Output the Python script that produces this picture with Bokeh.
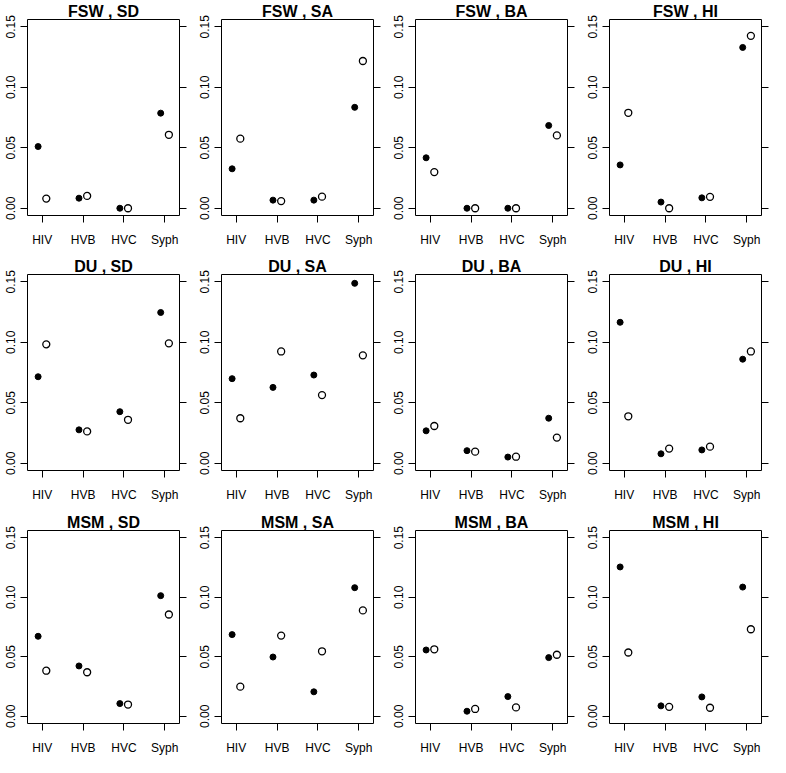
from bokeh.plotting import figure
from bokeh.layouts import gridplot
from bokeh.models import (FixedTicker, LinearAxis, NumeralTickFormatter, Range1d,
                          ColumnDataSource, CustomLabelingPolicy)
from bokeh.embed import file_html
from bokeh.resources import INLINE

categories = ["HIV", "HVB", "HVC", "Syph"]
groups = ["FSW", "DU", "MSM"]
sites = ["SD", "SA", "BA", "HI"]
y_ticks = [0.0, 0.05, 0.10, 0.15]

# filled points (first estimate) and open points (second estimate)
FSW_SD_filled = [0.051, 0.0083, 0.0, 0.0786]
FSW_SD_open = [0.008, 0.0102, 0.0, 0.0607]
FSW_SA_filled = [0.0326, 0.0067, 0.0067, 0.0834]
FSW_SA_open = [0.0575, 0.0059, 0.0096, 0.1217]
FSW_BA_filled = [0.0417, 0.0, 0.0, 0.0684]
FSW_BA_open = [0.0299, 0.0, 0.0, 0.0602]
FSW_HI_filled = [0.0358, 0.0051, 0.0086, 0.1329]
FSW_HI_open = [0.0789, 0.0, 0.0094, 0.1425]

DU_SD_filled = [0.0715, 0.0276, 0.0426, 0.1246]
DU_SD_open = [0.0983, 0.0263, 0.0359, 0.0991]
DU_SA_filled = [0.0699, 0.0627, 0.0729, 0.1487]
DU_SA_open = [0.0372, 0.0924, 0.0563, 0.0892]
DU_BA_filled = [0.0268, 0.0104, 0.0051, 0.0372]
DU_BA_open = [0.0308, 0.0096, 0.0054, 0.0212]
DU_HI_filled = [0.1165, 0.0078, 0.0110, 0.0860]
DU_HI_open = [0.0388, 0.0121, 0.0137, 0.0924]

MSM_SD_filled = [0.0672, 0.0423, 0.0107, 0.1013]
MSM_SD_open = [0.0383, 0.0370, 0.0099, 0.0855]
MSM_SA_filled = [0.0686, 0.0498, 0.0206, 0.1080]
MSM_SA_open = [0.0249, 0.0678, 0.0546, 0.0889]
MSM_BA_filled = [0.0557, 0.0043, 0.0166, 0.0493]
MSM_BA_open = [0.0563, 0.0062, 0.0075, 0.0517]
MSM_HI_filled = [0.1254, 0.0088, 0.0163, 0.1085]
MSM_HI_open = [0.0536, 0.0080, 0.0072, 0.0731]

data = {
    ("FSW", "SD"): (FSW_SD_filled, FSW_SD_open),
    ("FSW", "SA"): (FSW_SA_filled, FSW_SA_open),
    ("FSW", "BA"): (FSW_BA_filled, FSW_BA_open),
    ("FSW", "HI"): (FSW_HI_filled, FSW_HI_open),
    ("DU", "SD"): (DU_SD_filled, DU_SD_open),
    ("DU", "SA"): (DU_SA_filled, DU_SA_open),
    ("DU", "BA"): (DU_BA_filled, DU_BA_open),
    ("DU", "HI"): (DU_HI_filled, DU_HI_open),
    ("MSM", "SD"): (MSM_SD_filled, MSM_SD_open),
    ("MSM", "SA"): (MSM_SA_filled, MSM_SA_open),
    ("MSM", "BA"): (MSM_BA_filled, MSM_BA_open),
    ("MSM", "HI"): (MSM_HI_filled, MSM_HI_open),
}

FONT = "Liberation Sans"
DODGE = 0.1
FRAME_W = 152
FRAME_H = 196
TOP = 19
LEFT = [27, 28, 28, 28]
RIGHT = [14, 14, 14, 8]
BOTTOM = [40, 41, 31]


def make_panel(r, c):
    group, site = groups[r], sites[c]
    filled, hollow = data[(group, site)]
    idx = list(range(1, len(categories) + 1))
    w = LEFT[c] + FRAME_W + RIGHT[c]
    h = TOP + FRAME_H + BOTTOM[r]
    p = figure(width=w, height=h,
               x_range=Range1d(0.64, 4.36), y_range=Range1d(-0.006, 0.156),
               output_backend="svg", toolbar_location=None,
               min_border_left=LEFT[c], min_border_right=RIGHT[c],
               min_border_top=TOP, min_border_bottom=BOTTOM[r])
    p.title.text = f"{group} , {site}"
    p.title.align = "center"
    p.title.text_font = FONT
    p.title.text_font_style = "bold"
    p.title.text_font_size = "16px"
    p.title.text_color = "black"
    p.title.standoff = 0
    p.xgrid.visible = False
    p.ygrid.visible = False
    p.outline_line_color = "black"
    p.outline_line_alpha = 1.0
    p.outline_line_width = 1
    p.background_fill_color = "white"
    p.border_fill_color = "white"

    xa = p.xaxis[0]
    xa.ticker = FixedTicker(ticks=idx)
    xa.major_label_overrides = {i: cat for i, cat in zip(idx, categories)}
    xa.axis_line_color = None
    xa.major_tick_in = 0
    xa.major_tick_out = 7
    xa.major_tick_line_color = "black"
    xa.minor_tick_line_color = None
    xa.major_label_standoff = 10
    xa.major_label_text_font = FONT
    xa.major_label_text_font_size = "12px"
    xa.major_label_text_color = "black"

    ya = p.yaxis[0]
    ya.ticker = FixedTicker(ticks=y_ticks)
    ya.formatter = NumeralTickFormatter(format="0.00")
    ya.axis_line_color = None
    ya.major_tick_in = 0
    ya.major_tick_out = 7
    ya.major_tick_line_color = "black"
    ya.minor_tick_line_color = None
    ya.major_label_orientation = "vertical"
    ya.major_label_standoff = 5
    ya.major_label_text_font = FONT
    ya.major_label_text_font_size = "12px"
    ya.major_label_text_color = "black"

    ra = LinearAxis(ticker=FixedTicker(ticks=y_ticks),
                    axis_line_color=None, major_tick_in=0, major_tick_out=7,
                    major_tick_line_color="black", minor_tick_line_color=None,
                    major_label_text_font_size="0px", major_label_standoff=0,
                    major_label_policy=CustomLabelingPolicy(code="return []"))
    p.add_layout(ra, "right")

    src_f = ColumnDataSource(dict(x=[i - DODGE for i in idx], y=filled))
    src_o = ColumnDataSource(dict(x=[i + DODGE for i in idx], y=hollow))
    p.scatter("x", "y", source=src_f, size=6, fill_color="black", line_color="black")
    p.scatter("x", "y", source=src_o, size=7, fill_color="white", line_color="black", line_width=1.3)
    return p


rows = [[make_panel(r, c) for c in range(len(sites))] for r in range(len(groups))]
grid = gridplot(rows, toolbar_location=None)

open("out.html", "w").write(file_html(grid, INLINE))
